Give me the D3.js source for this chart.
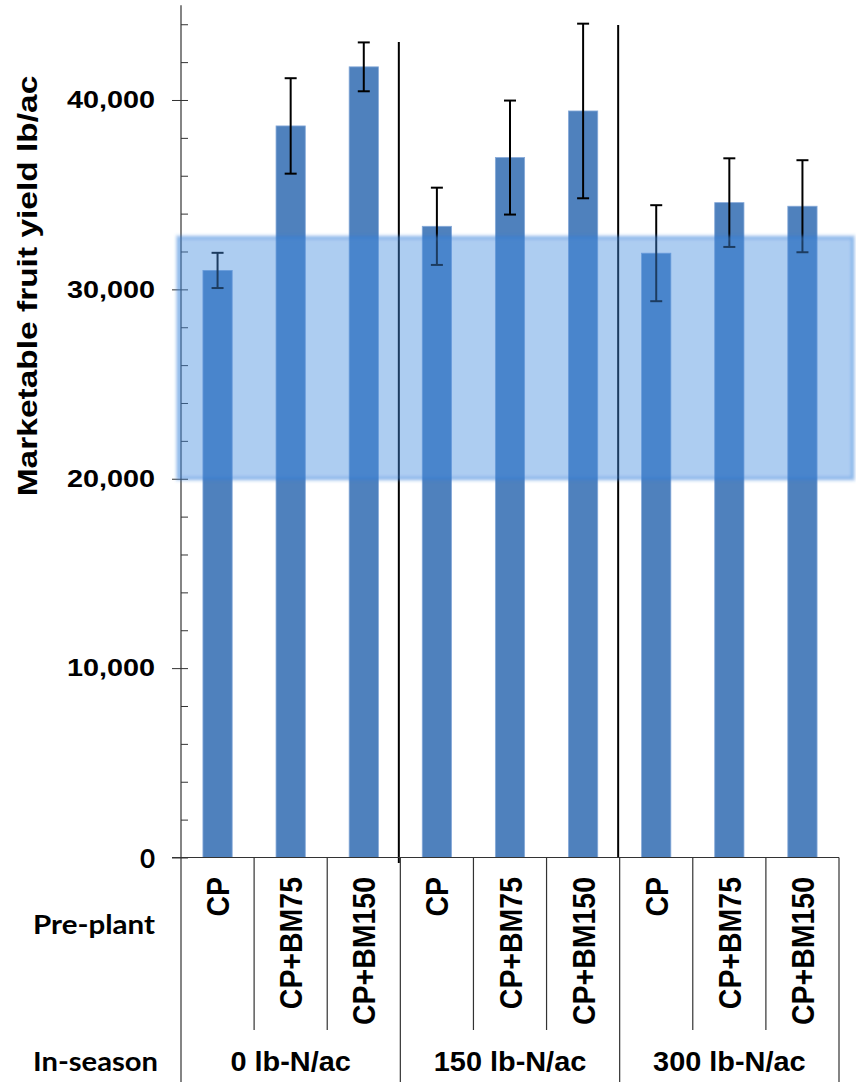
<!DOCTYPE html>
<html>
<head>
<meta charset="utf-8">
<script src="https://cdn.jsdelivr.net/npm/d3@7"></script>
<style>
  html, body { margin: 0; padding: 0; background: #fff; }
  svg { display: block; }
</style>
</head>
<body>
<script>
// Marketable fruit yield by pre-plant treatment within each in-season N rate
const inSeasonGroups = ["0 lb-N/ac", "150 lb-N/ac", "300 lb-N/ac"];
const prePlant = ["CP", "CP+BM75", "CP+BM150"];
const yieldMean = [31000, 38630, 41750, 33330, 36960, 39420, 31910, 34580, 34390];
const yieldErr  = [930, 2520, 1290, 2040, 3010, 4610, 2535, 2340, 2430];
const yTicks = [0, 10000, 20000, 30000, 40000];
const highlightRange = [20000, 32750];

const W = 856, H = 1085;
const left = 181, right = 839, baseY = 857.5, topY = 5.3;

const svg = d3.select("body").append("svg").attr("width", W).attr("height", H);

const defs = svg.append("defs");
defs.append("filter").attr("id", "soft")
  .attr("x", "-5%").attr("y", "-5%").attr("width", "110%").attr("height", "110%")
  .append("feGaussianBlur").attr("stdDeviation", 1.6);

const cats = d3.range(inSeasonGroups.length * prePlant.length);

const y = d3.scaleLinear().domain([0, 45000]).range([baseY, topY]);
const x = d3.scaleBand().domain(cats).range([left, right]).paddingInner(0.6).paddingOuter(0.3);
const cell = d3.scaleBand().domain(cats).range([left, right]).padding(0);
const group = d3.scaleBand().domain(inSeasonGroups).range([left, right]).padding(0);

// bars
svg.append("g").selectAll("rect").data(cats).join("rect")
  .attr("x", i => x(i))
  .attr("width", x.bandwidth())
  .attr("y", i => y(yieldMean[i]))
  .attr("height", i => baseY - y(yieldMean[i]))
  .attr("fill", "#4f81bd")
  .attr("stroke", "#86a9d8")
  .attr("stroke-width", 0.8);

// error bars
const eb = svg.append("g").attr("stroke", "#000").attr("stroke-width", 2).attr("fill", "none");
cats.forEach(i => {
  const cx = x(i) + x.bandwidth() / 2;
  const hi = y(yieldMean[i] + yieldErr[i]);
  const lo = y(yieldMean[i] - yieldErr[i]);
  eb.append("line").attr("x1", cx).attr("x2", cx).attr("y1", hi).attr("y2", lo);
  eb.append("line").attr("x1", cx - 6).attr("x2", cx + 6).attr("y1", hi).attr("y2", hi);
  eb.append("line").attr("x1", cx - 6).attr("x2", cx + 6).attr("y1", lo).attr("y2", lo);
});

// vertical dividers between in-season groups
const dividerTop = [42, 25];
inSeasonGroups.slice(1).forEach((g, k) => {
  const gx = group(g) - 1.5;
  svg.append("line")
    .attr("x1", gx).attr("x2", gx)
    .attr("y1", dividerTop[k]).attr("y2", k === 0 ? 863 : baseY)
    .attr("stroke", "#000").attr("stroke-width", 2);
});

// y axis: major ticks with labels, minor ticks every 2,000 on the inside
const yAxis = svg.append("g").attr("transform", `translate(${left},0)`)
  .call(d3.axisLeft(y).tickValues(yTicks).tickSize(9).tickPadding(17).tickFormat(d3.format(",")));
yAxis.select(".domain").remove();
yAxis.selectAll(".tick line").attr("stroke", "#333");
yAxis.selectAll(".tick text")
  .attr("fill", "#000")
  .style("font-family", "'Liberation Sans', Arial, sans-serif")
  .style("font-weight", "bold")
  .style("font-size", "24px")
  .attr("lengthAdjust", "spacingAndGlyphs")
  .attr("textLength", function () { return this.getComputedTextLength() * 1.2; });
yAxis.selectAll(".tick").filter(d => d === 0).select("text")
  .attr("textLength", null)
  .attr("dy", null).attr("y", 9.5)
  .style("font-family", "Lato, 'Open Sans', sans-serif")
  .style("font-size", "26px");

const yMinor = svg.append("g").attr("transform", `translate(${left},0)`)
  .call(d3.axisRight(y).tickValues(d3.range(0, 45001, 2000)).tickSize(7).tickFormat(""));
yMinor.select(".domain").remove();
yMinor.selectAll(".tick line").attr("stroke", "#333");

// axis lines and label-table grid
const grid = svg.append("g").attr("stroke", "#333").attr("stroke-width", 1.2);
grid.append("line").attr("x1", left).attr("x2", left).attr("y1", topY).attr("y2", 1082);
grid.append("line").attr("x1", left - 9).attr("x2", right).attr("y1", baseY).attr("y2", baseY);
cats.slice(1).forEach(i => {
  if (i % prePlant.length === 0) return;
  grid.append("line").attr("x1", cell(i)).attr("x2", cell(i)).attr("y1", baseY).attr("y2", 1030);
});
inSeasonGroups.slice(1).forEach(g => {
  grid.append("line").attr("x1", group(g)).attr("x2", group(g)).attr("y1", baseY).attr("y2", 1082);
});
grid.append("line").attr("x1", right).attr("x2", right).attr("y1", baseY).attr("y2", 1082);

// rotated pre-plant labels
svg.append("g").selectAll("text").data(cats).join("text")
  .attr("transform", i => `translate(${cell(i) + cell.bandwidth() / 2 + 11.5},877) scale(1.13,1) rotate(-90)`)
  .attr("text-anchor", "end")
  .style("font-family", "'Liberation Sans', Arial, sans-serif")
  .style("font-weight", "bold")
  .style("font-size", "28.5px")
  .text(i => prePlant[i % prePlant.length]);

// in-season group labels
svg.append("g").selectAll("text").data(inSeasonGroups).join("text")
  .attr("transform", g => `translate(${group(g) + group.bandwidth() / 2},1071) scale(1.07,1)`)
  .attr("text-anchor", "middle")
  .style("font-family", "'Liberation Sans', Arial, sans-serif")
  .style("font-weight", "bold")
  .style("font-size", "27px")
  .text(g => g);

// row titles
const rowTitle = (txt, xr, yb, len) => svg.append("text")
  .attr("x", xr).attr("y", yb)
  .attr("text-anchor", "end")
  .attr("textLength", len).attr("lengthAdjust", "spacingAndGlyphs")
  .style("font-family", "Lato, 'Open Sans', sans-serif")
  .style("font-weight", "bold")
  .style("font-size", "26px")
  .text(txt);
rowTitle("Pre-plant", 155, 934, 122);
rowTitle("In-season", 158, 1071, 125);

// y axis title
svg.append("text")
  .attr("transform", "translate(37,286) scale(0.85,1) rotate(-90)")
  .attr("text-anchor", "middle")
  .style("font-family", "'Liberation Sans', Arial, sans-serif")
  .style("font-weight", "bold")
  .style("font-size", "33.5px")
  .text("Marketable fruit yield lb/ac");

// translucent highlight band across the plot
svg.append("rect")
  .attr("x", left - 3)
  .attr("width", 853 - (left - 3))
  .attr("y", y(highlightRange[1]))
  .attr("height", y(highlightRange[0]) - y(highlightRange[1]))
  .attr("fill", "rgba(68,138,222,0.43)")
  .attr("stroke", "rgba(45,120,215,0.35)")
  .attr("stroke-width", 4)
  .attr("filter", "url(#soft)");
</script>
</body>
</html>
